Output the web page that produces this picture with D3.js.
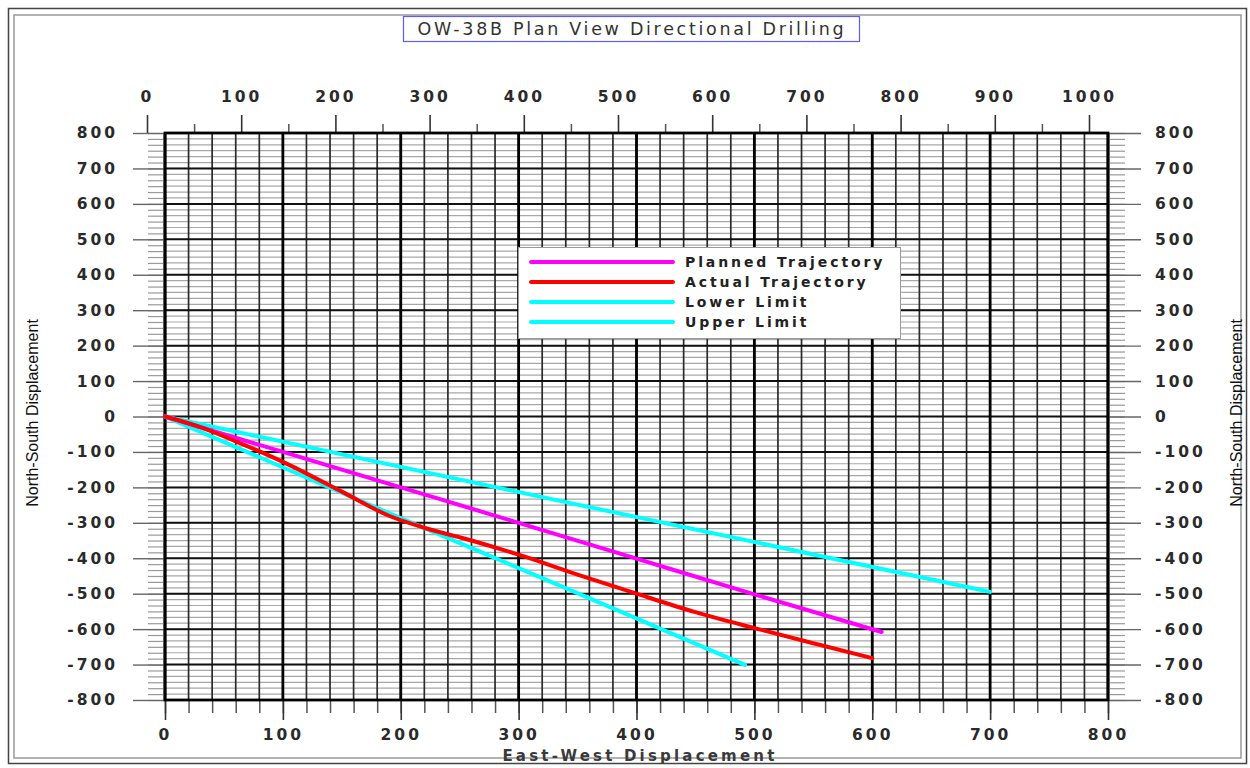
<!DOCTYPE html>
<html>
<head>
<meta charset="utf-8">
<script src="https://cdn.jsdelivr.net/npm/d3@7"></script>
<style>
  body { margin: 0; background: #fff; }
  .tick text { font-family: "DejaVu Sans", sans-serif; font-size: 15.5px; font-weight: bold; fill: #2a2a2a; letter-spacing: 3px; }
  .title { font-family: "DejaVu Sans", sans-serif; font-size: 17.5px; fill: #333; letter-spacing: 2.7px; }
  .legend text { font-family: "DejaVu Sans", sans-serif; font-size: 14px; font-weight: bold; fill: #222; letter-spacing: 2.9px; }
  .xlabel { font-family: "DejaVu Sans", sans-serif; font-size: 15px; font-weight: bold; fill: #3a3a3a; letter-spacing: 3.2px; }
  .ylabel { font-family: "Liberation Sans Narrow", "Liberation Sans", sans-serif; font-size: 16px; fill: #111; }
</style>
</head>
<body>
<div id="container"></div>
<script>
// chart values
const bottomTicks = [0, 100, 200, 300, 400, 500, 600, 700, 800];
const topTicks = [0, 100, 200, 300, 400, 500, 600, 700, 800, 900, 1000];
const sideTicks = [800, 700, 600, 500, 400, 300, 200, 100, 0, -100, -200, -300, -400, -500, -600, -700, -800];

const seriesNames = ["Planned Trajectory", "Actual Trajectory", "Lower Limit", "Upper Limit"];
const seriesColors = ["#ff00ff", "#ff0000", "#00ffff", "#00ffff"];

// [east-west, north-south]
const planned = [[0, 0], [100, -100], [200, -200], [300, -300], [400, -401], [500, -502], [608, -608]];
const actual = [[0, 0], [30, -30], [60, -70], [100, -128], [150, -212], [190, -280], [220, -314], [260, -350],
                [300, -390], [350, -446], [400, -500], [450, -552], [500, -597], [550, -640], [600, -682]];
const lowerLimit = [[0, 0], [335, -238], [700, -495]];
const upperLimit = [[0, 0], [200, -287], [335, -477], [492, -701]];

const W = 1250, H = 768;
const margin = {top: 133, right: 142, bottom: 68, left: 165};
const pLeft = margin.left, pRight = W - margin.right, pTop = margin.top, pBottom = H - margin.bottom;

const svg = d3.select("#container")
  .append("svg")
    .attr("width", W)
    .attr("height", H);

// outer double frame
svg.append("rect").attr("x", 8.5).attr("y", 8.5).attr("width", 1238).attr("height", 755)
  .attr("fill", "none").attr("stroke", "#444").attr("stroke-width", 1.5);
svg.append("rect").attr("x", 14).attr("y", 15).attr("width", 1227).attr("height", 743)
  .attr("fill", "none").attr("stroke", "#999").attr("stroke-width", 1.5);

const x = d3.scaleLinear().domain([0, 800]).range([pLeft, pRight]);
const xTop = d3.scaleLinear().domain([0, 1000]).range([147, 1089]);
const y = d3.scaleLinear().domain([-800, 800]).range([pBottom, pTop]);

const minorY = d3.range(-800, 800.001, 100 / 6);
const minorX = d3.range(0, 800.001, 20);
const fmt = d => String(d);

// grid
const grid = svg.append("g");
grid.selectAll(".hminor").data(minorY).enter().append("line")
  .attr("x1", pLeft).attr("x2", pRight)
  .attr("y1", d => y(d)).attr("y2", d => y(d))
  .attr("stroke", "#a8a8a8").attr("stroke-width", 1.2);
grid.selectAll(".vminor").data(minorX).enter().append("line")
  .attr("x1", d => x(d)).attr("x2", d => x(d))
  .attr("y1", pTop).attr("y2", pBottom)
  .attr("stroke", "#2a2a2a").attr("stroke-width", 1.7);
grid.selectAll(".hmajor").data(sideTicks).enter().append("line")
  .attr("x1", pLeft).attr("x2", pRight)
  .attr("y1", d => y(d)).attr("y2", d => y(d))
  .attr("stroke", "#111").attr("stroke-width", 2);
grid.selectAll(".vmajor").data(bottomTicks).enter().append("line")
  .attr("x1", d => x(d)).attr("x2", d => x(d))
  .attr("y1", pTop).attr("y2", pBottom)
  .attr("stroke", "#000").attr("stroke-width", 2.8);

// axes
function styleAxis(g, color, width) {
  g.select(".domain").remove();
  g.selectAll(".tick line").attr("stroke", color).attr("stroke-width", width);
}

svg.append("g").attr("transform", `translate(0,${pBottom})`)
  .call(d3.axisBottom(x).tickValues(minorX).tickSize(13).tickFormat(""))
  .call(g => styleAxis(g, "#555", 1.5));
svg.append("g").attr("transform", `translate(0,${pBottom})`)
  .call(d3.axisBottom(x).tickValues(bottomTicks).tickSize(20).tickPadding(9).tickFormat(fmt))
  .call(g => styleAxis(g, "#333", 1.6));

svg.append("g").attr("transform", `translate(0,${pTop})`)
  .call(d3.axisTop(xTop).tickValues(d3.range(50, 1000, 100)).tickSize(9).tickFormat(""))
  .call(g => styleAxis(g, "#555", 1.5));
svg.append("g").attr("transform", `translate(0,${pTop})`)
  .call(d3.axisTop(xTop).tickValues(topTicks).tickSize(18).tickPadding(13).tickFormat(fmt))
  .call(g => styleAxis(g, "#333", 1.6));

svg.append("g").attr("transform", `translate(${pLeft},0)`)
  .call(d3.axisLeft(y).tickValues(minorY).tickSize(17).tickFormat(""))
  .call(g => styleAxis(g, "#999", 1.2));
svg.append("g").attr("transform", `translate(${pLeft},0)`)
  .call(d3.axisLeft(y).tickValues(sideTicks).tickSize(32).tickPadding(15).tickFormat(fmt))
  .call(g => styleAxis(g, "#666", 1.4));

svg.append("g").attr("transform", `translate(${pRight},0)`)
  .call(d3.axisRight(y).tickValues(minorY).tickSize(17).tickFormat(""))
  .call(g => styleAxis(g, "#999", 1.2));
svg.append("g").attr("transform", `translate(${pRight},0)`)
  .call(d3.axisRight(y).tickValues(sideTicks).tickSize(33).tickPadding(14).tickFormat(fmt))
  .call(g => styleAxis(g, "#666", 1.4));

// plot frame
svg.append("rect").attr("x", pLeft).attr("y", pTop)
  .attr("width", pRight - pLeft).attr("height", pBottom - pTop)
  .attr("fill", "none").attr("stroke", "#000").attr("stroke-width", 2.8);

// series
const line = d3.line().x(d => x(d[0])).y(d => y(d[1])).curve(d3.curveMonotoneX);
const allSeries = [planned, actual, lowerLimit, upperLimit];
svg.selectAll(".series").data([2, 3, 0, 1]).enter().append("path")
  .attr("d", i => line(allSeries[i]))
  .attr("fill", "none")
  .attr("stroke", i => seriesColors[i])
  .attr("stroke-width", 4)
  .attr("stroke-linecap", "round");

// legend
const legend = svg.append("g").attr("class", "legend");
legend.append("rect").attr("x", 518.5).attr("y", 247.5).attr("width", 382).attr("height", 91)
  .attr("fill", "#fff").attr("stroke", "#999").attr("stroke-width", 1);
const item = legend.selectAll(".item").data(seriesNames).enter().append("g")
  .attr("transform", (d, i) => `translate(0,${262 + i * 20})`);
item.append("line").attr("x1", 531).attr("x2", 673)
  .attr("stroke", (d, i) => seriesColors[i]).attr("stroke-width", 4).attr("stroke-linecap", "round");
item.append("text").attr("x", 685).attr("dy", "0.36em").text(d => d);

// title
svg.append("rect").attr("x", 403.5).attr("y", 16.5).attr("width", 456).attr("height", 25)
  .attr("fill", "#fff").attr("stroke", "#5b5bff").attr("stroke-width", 1.2);
svg.append("text").attr("class", "title").attr("x", 632).attr("y", 35)
  .attr("text-anchor", "middle").text("OW-38B Plan View Directional Drilling");

// axis titles
svg.append("text").attr("class", "xlabel").attr("x", 640).attr("y", 761)
  .attr("text-anchor", "middle").text("East-West Displacement");
svg.append("text").attr("class", "ylabel")
  .attr("transform", "translate(38,413) rotate(-90)")
  .attr("text-anchor", "middle").text("North-South Displacement");
svg.append("text").attr("class", "ylabel")
  .attr("transform", "translate(1242,413) rotate(-90)")
  .attr("text-anchor", "middle").text("North-South Displacement");
</script>
</body>
</html>
